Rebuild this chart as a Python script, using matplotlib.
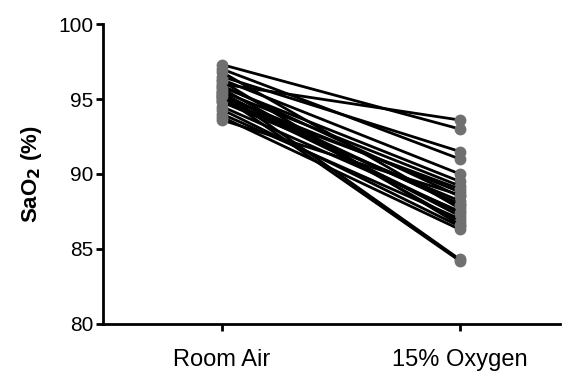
import numpy as np
import matplotlib.pyplot as plt

plt.rcParams['font.family'] = ['Liberation Sans', 'DejaVu Sans']

conditions = ["Room Air", "15% Oxygen"]

# SaO2 per subject
room_air = [96.0, 97.3, 96.5, 97.0, 96.3, 95.8, 95.5, 95.2, 95.9, 94.8,
            95.0, 96.8, 94.5, 95.4, 94.0, 95.7, 94.3, 93.8, 96.2, 95.1,
            93.6, 94.9, 95.3, 95.5, 95.2]
oxygen_15 = [93.6, 93.0, 91.5, 91.0, 90.0, 89.5, 89.2, 88.8, 88.5, 88.2,
             88.0, 87.7, 87.5, 87.2, 87.0, 86.8, 86.5, 86.3, 86.6, 87.4,
             88.6, 89.0, 87.9, 84.3, 84.2]

fig = plt.figure(figsize=(5.66, 3.71), dpi=100)
ax = fig.add_axes([0.182, 0.127, 0.807, 0.808])

x = np.arange(len(conditions))
for a, b in zip(room_air, oxygen_15):
    ax.plot(x, [a, b], color="black", linewidth=2, marker="o", markersize=7.5,
            markerfacecolor="#707070", markeredgecolor="#707070", zorder=2)

ax.set_xlim(-0.5, 1.42)
ax.set_ylim(80, 100)
ax.set_yticks([80, 85, 90, 95, 100])
ax.set_xticks(x)
ax.set_xticklabels(conditions, fontsize=17)
ax.tick_params(axis="y", labelsize=15, length=5, width=2, direction="out", pad=2)
ax.tick_params(axis="x", length=5, width=2, direction="out", pad=13)
ax.set_ylabel("SaO$_\\mathbf{2}$ (%)", fontsize=16, fontweight="bold", labelpad=10)

for s in ["top", "right"]:
    ax.spines[s].set_visible(False)
for s in ["left", "bottom"]:
    ax.spines[s].set_linewidth(2)

fig.savefig("out.png", dpi=100)
